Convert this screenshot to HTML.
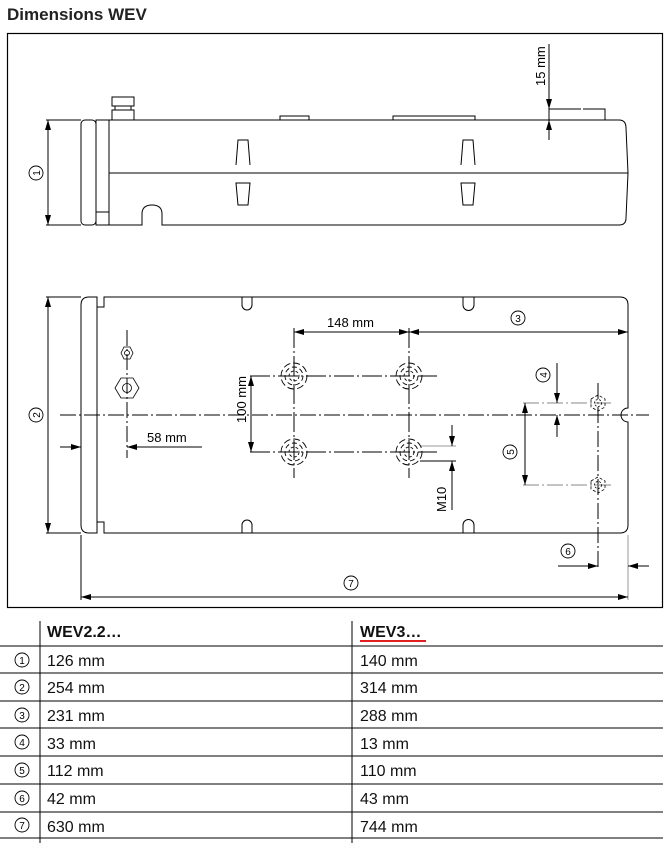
<!DOCTYPE html>
<html><head><meta charset="utf-8"><style>
html,body{margin:0;padding:0;background:#fff;}
svg{display:block;font-family:"Liberation Sans",Arial,sans-serif;}
</style></head><body>
<svg width="667" height="843" viewBox="0 0 667 843" xmlns="http://www.w3.org/2000/svg">
<defs>
<marker id="a" viewBox="0 0 10 6" refX="10" refY="3" markerWidth="10" markerHeight="6" orient="auto-start-reverse" markerUnits="userSpaceOnUse"><path d="M0,0 L10,3 L0,6 z" fill="#000"/></marker>
<g id="hole"><circle r="13" fill="none" stroke="#000" stroke-width="0.9" stroke-dasharray="7 3"/><circle r="9" fill="none" stroke="#000" stroke-width="0.9" stroke-dasharray="5 3"/><circle r="5" fill="none" stroke="#000" stroke-width="0.9" stroke-dasharray="3 2"/></g>
<g id="sh"><polygon points="-7,-4 0,-8 7,-4 7,4 0,8 -7,4" fill="none" stroke="#000" stroke-width="0.8" stroke-dasharray="3 2"/><circle r="3.5" fill="none" stroke="#000" stroke-width="0.8" stroke-dasharray="2 1.5"/></g>
</defs>
<text x="7" y="20" font-size="17" font-weight="bold" fill="#222">Dimensions WEV</text>
<rect x="7.5" y="33.5" width="655" height="574" fill="none" stroke="#000" stroke-width="1.2"/>

<g stroke="#000" stroke-width="1" fill="none">
<!-- top view -->
<rect x="81" y="120" width="15" height="105" rx="4"/>
<rect x="96" y="120" width="13" height="105"/>
<line x1="96" y1="212" x2="109" y2="212"/>
<path d="M109,120 H619 Q626,120 626,128 L628,173 L626,218 Q626,225 619,225 H162 V214 Q162,205 152,205 Q142,205 142,214 V225 H109"/>
<line x1="109" y1="173" x2="628" y2="173"/>
<rect x="112" y="97" width="22" height="9"/>
<rect x="115" y="106" width="16" height="4"/>
<rect x="112" y="110" width="22" height="10"/>
<path d="M280,120 V116 H309 V120 M393,120 V116 H475 V120"/>
<path d="M549,120 V109 H581 M583,109 H605 V120" />
<path d="M236,165 L238,140 H248 L250,165 M236,183 H250 L248,205 H238 Z"/>
<path d="M461,165 L463,140 H473 L475,165 M461,183 H475 L473,205 H463 Z"/>
<line x1="46" y1="120" x2="81" y2="120"/><line x1="46" y1="225" x2="81" y2="225"/>
<line x1="48" y1="120" x2="48" y2="225" marker-start="url(#a)" marker-end="url(#a)"/>
<line x1="549" y1="44" x2="549" y2="109" marker-end="url(#a)"/>
<line x1="549" y1="140" x2="549" y2="120" marker-end="url(#a)"/>

<!-- plan view -->
<path d="M104,297 H620 Q628,297 628,305 V408 A7,7 0 0 0 628,422 V525 Q628,533 620,533 H104 V522 H97 V533 H89 Q81,533 81,525 V305 Q81,297 89,297 H97 V307 H104 Z"/>
<line x1="97" y1="307" x2="97" y2="522"/>
<path d="M242,297 V305 A5,5 0 0 0 252,305 V297 M463,297 V305 A5,5 0 0 0 474,305 V297"/>
<path d="M242,533 V525 A5,5 0 0 1 252,525 V533 M463,533 V525 A5,5 0 0 1 474,525 V533"/>
<line x1="60" y1="415" x2="649" y2="415" stroke-dasharray="16 3 2 3"/>
<line x1="127" y1="330" x2="127" y2="458" stroke-dasharray="16 3 2 3"/>
<polygon points="121,353 124,347 130,347 133,353 130,359 124,359" stroke-width="0.8"/>
<circle cx="127" cy="353" r="2.5" stroke-width="0.8"/>
<polygon points="115,388 121,378 133,378 139,388 133,398 121,398" stroke-width="0.8"/>
<circle cx="127" cy="388" r="4.5" stroke-width="0.8"/>
<line x1="250" y1="376" x2="437" y2="376" stroke-dasharray="20 3 2 3"/>
<line x1="250" y1="452" x2="437" y2="452" stroke-dasharray="20 3 2 3"/>
<line x1="294" y1="328" x2="294" y2="478" stroke-dasharray="20 3 2 3"/>
<line x1="409" y1="328" x2="409" y2="478" stroke-dasharray="20 3 2 3"/>
<line x1="60" y1="447" x2="81" y2="447" marker-end="url(#a)"/>
<line x1="202" y1="447" x2="127" y2="447" marker-end="url(#a)"/>
<line x1="294" y1="332" x2="409" y2="332" marker-start="url(#a)" marker-end="url(#a)"/>
<line x1="409" y1="332" x2="628" y2="332" marker-start="url(#a)" marker-end="url(#a)"/>
<line x1="251" y1="376" x2="251" y2="452" marker-start="url(#a)" marker-end="url(#a)"/>
<line x1="420" y1="446" x2="456" y2="446" stroke="#999"/>
<line x1="420" y1="461" x2="456" y2="461"/>
<line x1="452" y1="425" x2="452" y2="446" marker-end="url(#a)"/>
<line x1="452" y1="510" x2="452" y2="461" marker-end="url(#a)"/>
<line x1="598" y1="383" x2="598" y2="568" stroke-dasharray="16 3 2 3"/>
<line x1="523" y1="403" x2="612" y2="403" stroke="#888" stroke-dasharray="16 3 2 3"/>
<line x1="523" y1="485" x2="612" y2="485" stroke="#888" stroke-dasharray="16 3 2 3"/>
<line x1="557" y1="363" x2="557" y2="403" marker-end="url(#a)"/>
<line x1="557" y1="437" x2="557" y2="415" marker-end="url(#a)"/>
<line x1="525" y1="403" x2="525" y2="485" marker-start="url(#a)" marker-end="url(#a)"/>
<line x1="628" y1="535" x2="628" y2="600" stroke="#999"/>
<line x1="558" y1="566" x2="598" y2="566" marker-end="url(#a)"/>
<line x1="649" y1="566" x2="628" y2="566" marker-end="url(#a)"/>
<line x1="81" y1="535" x2="81" y2="600"/>
<line x1="81" y1="597" x2="628" y2="597" marker-start="url(#a)" marker-end="url(#a)"/>
<line x1="46" y1="297" x2="81" y2="297"/><line x1="46" y1="533" x2="81" y2="533"/>
<line x1="48" y1="297" x2="48" y2="533" marker-start="url(#a)" marker-end="url(#a)"/>
</g>
<use href="#hole" x="294" y="376"/><use href="#hole" x="409" y="376"/>
<use href="#hole" x="294" y="452"/><use href="#hole" x="409" y="452"/>
<use href="#sh" x="598" y="403"/><use href="#sh" x="598" y="485"/>

<g font-size="13" fill="#000">
<text x="327" y="327">148 mm</text>
<text x="147" y="442">58 mm</text>
<text transform="translate(545,86) rotate(-90)">15 mm</text>
<text transform="translate(246,423) rotate(-90)">100 mm</text>
<text transform="translate(446,512) rotate(-90)">M10</text>
</g>
<g fill="none" stroke="#000" stroke-width="0.9">
<circle cx="36" cy="173" r="7"/><circle cx="36" cy="415" r="7"/><circle cx="518" cy="318" r="7"/>
<circle cx="543" cy="375" r="7"/><circle cx="510" cy="452" r="7"/><circle cx="568" cy="551" r="7"/><circle cx="351" cy="583" r="7"/>
</g>
<g font-size="10" text-anchor="middle" fill="#000">
<text transform="translate(40,173) rotate(-90)">1</text>
<text transform="translate(40,415) rotate(-90)">2</text>
<text x="518" y="322">3</text>
<text transform="translate(547,375) rotate(-90)">4</text>
<text transform="translate(514,452) rotate(-90)">5</text>
<text x="568" y="555">6</text>
<text x="351" y="587">7</text>
</g>

<!-- table -->
<g stroke="#000" stroke-width="1">
<line x1="40" y1="621" x2="40" y2="843"/><line x1="352" y1="621" x2="352" y2="843"/>
<line x1="0" y1="646" x2="663" y2="646"/><line x1="0" y1="673" x2="663" y2="673"/>
<line x1="0" y1="701" x2="663" y2="701"/><line x1="0" y1="728" x2="663" y2="728"/>
<line x1="0" y1="756" x2="663" y2="756"/><line x1="0" y1="784" x2="663" y2="784"/>
<line x1="0" y1="812" x2="663" y2="812"/><line x1="0" y1="838" x2="663" y2="838"/>
</g>
<g font-size="16" fill="#111">
<text x="47" y="637" font-weight="bold">WEV2.2…</text>
<text x="360" y="637" font-weight="bold">WEV3…</text>
<text x="47" y="666">126 mm</text><text x="360" y="666">140 mm</text>
<text x="47" y="693">254 mm</text><text x="360" y="693">314 mm</text>
<text x="47" y="721">231 mm</text><text x="360" y="721">288 mm</text>
<text x="47" y="749">33 mm</text><text x="360" y="749">13 mm</text>
<text x="47" y="776">112 mm</text><text x="360" y="776">110 mm</text>
<text x="47" y="804">42 mm</text><text x="360" y="804">43 mm</text>
<text x="47" y="832">630 mm</text><text x="360" y="832">744 mm</text>
</g>
<line x1="360" y1="641" x2="426" y2="641" stroke="#e02020" stroke-width="2"/>
<g fill="none" stroke="#000" stroke-width="0.9">
<circle cx="22" cy="660" r="7"/><circle cx="22" cy="687" r="7"/><circle cx="22" cy="715" r="7"/>
<circle cx="22" cy="742" r="7"/><circle cx="22" cy="770" r="7"/><circle cx="22" cy="798" r="7"/><circle cx="22" cy="825" r="7"/>
</g>
<g font-size="10" text-anchor="middle" fill="#000">
<text x="22" y="664">1</text><text x="22" y="691">2</text><text x="22" y="719">3</text>
<text x="22" y="746">4</text><text x="22" y="774">5</text><text x="22" y="802">6</text><text x="22" y="829">7</text>
</g>
</svg>
</body></html>
